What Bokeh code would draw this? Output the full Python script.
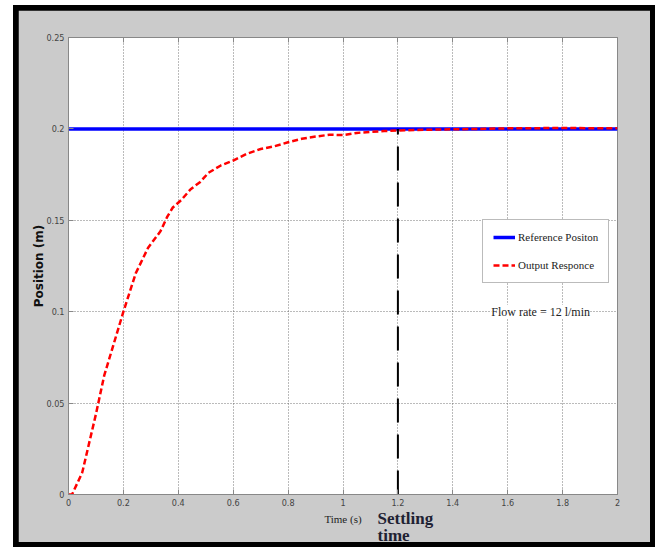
from bokeh.plotting import figure
from bokeh.layouts import column
from bokeh.models import (Range1d, FixedTicker, LinearAxis, Legend, LegendItem, Label)
from bokeh.embed import file_html
from bokeh.resources import INLINE

# ---- data ----
ref_t = [0, 2]
ref_y = [0.2, 0.2]

out_t = [0, 0.013, 0.05, 0.1, 0.13, 0.2, 0.245, 0.29, 0.335, 0.36, 0.38, 0.41, 0.445,
         0.48, 0.51, 0.555, 0.6, 0.65, 0.7, 0.75, 0.8, 0.85, 0.9, 0.95, 1.0, 1.05,
         1.1, 1.15, 1.2, 1.3, 1.4, 1.5, 1.6, 1.7, 1.8, 1.9, 2.0]
out_y = [0, 0, 0.012, 0.044, 0.065, 0.1, 0.121, 0.135, 0.144, 0.152, 0.157, 0.161, 0.167,
         0.171, 0.176, 0.180, 0.1827, 0.1864, 0.189, 0.1905, 0.1927, 0.1946, 0.1958, 0.1968,
         0.1966, 0.1978, 0.1984, 0.1988, 0.1991, 0.1995, 0.1998, 0.2, 0.2003, 0.2004,
         0.2005, 0.2004, 0.2003]

settling_time = 1.2
settle_y = [0, 0.2]

x_ticks = [0, 0.2, 0.4, 0.6, 0.8, 1, 1.2, 1.4, 1.6, 1.8, 2]
x_tick_labels = ["0", "0.2", "0.4", "0.6", "0.8", "1", "1.2", "1.4", "1.6", "1.8", "2"]
y_ticks = [0, 0.05, 0.1, 0.15, 0.2, 0.25]
y_tick_labels = ["0", "0.05", "0.1", "0.15", "0.2", "0.25"]

GREY = "#cbcbcb"
TICK_FONT = "'Liberation Sans Narrow', 'DejaVu Sans Condensed', sans-serif"
SERIF = "'Liberation Serif', serif"

W, H = 632, 532
p = figure(width=W, height=H, output_backend="svg", toolbar_location=None,
           x_range=Range1d(0, 2), y_range=Range1d(0, 0.25),
           min_border_left=50, min_border_right=33, min_border_top=27, min_border_bottom=48)
p.background_fill_color = "white"
p.border_fill_color = GREY
p.outline_line_color = "#888888"

# axes
for ax, ticks, labels in ((p.xaxis[0], x_ticks, x_tick_labels), (p.yaxis[0], y_ticks, y_tick_labels)):
    ax.ticker = FixedTicker(ticks=ticks)
    ax.major_label_overrides = {t: l for t, l in zip(ticks, labels)}
    ax.major_label_text_font = TICK_FONT
    ax.major_label_text_font_size = "9px"
    ax.major_label_text_color = "#444444"
    ax.major_tick_in = 5
    ax.major_tick_out = 0
    ax.minor_tick_line_color = None
    ax.axis_line_color = "#888888"
    ax.major_tick_line_color = "#888888"
    ax.major_label_standoff = 4

p.xaxis.axis_label = "Time (s)"
p.xaxis.axis_label_text_font = SERIF
p.xaxis.axis_label_text_font_style = "normal"
p.xaxis.axis_label_text_font_size = "11px"
p.xaxis.axis_label_text_color = "#222222"
p.xaxis.axis_label_standoff = 4

p.yaxis.axis_label = "Position (m)"
p.yaxis.axis_label_text_font = "'DejaVu Sans', sans-serif"
p.yaxis.axis_label_text_font_style = "bold"
p.yaxis.axis_label_text_font_size = "12px"
p.yaxis.axis_label_text_color = "#111111"
p.yaxis.axis_label_standoff = -3

# box ticks on top
top_axis = LinearAxis(ticker=FixedTicker(ticks=x_ticks), major_label_text_font_size="0px",
                      major_label_standoff=0,
                      major_tick_in=5, major_tick_out=0, minor_tick_line_color=None,
                      axis_line_color="#888888", major_tick_line_color="#888888")
p.add_layout(top_axis, "above")

# grid
for g in (p.xgrid[0], p.ygrid[0]):
    g.grid_line_color = "#555555"
    g.grid_line_dash = "1 2"
    g.grid_line_alpha = 0.8
    g.grid_line_width = 1
p.xgrid[0].ticker = FixedTicker(ticks=x_ticks)
p.ygrid[0].ticker = FixedTicker(ticks=y_ticks)

# lines
r_ref = p.line(ref_t, ref_y, line_color="#0000ff", line_width=3.5)
r_out = p.line(out_t, out_y, line_color="#ff0000", line_width=2.5, line_dash="6 3")
p.line([settling_time, settling_time], settle_y, line_color="black", line_width=2,
       line_dash="24 12")

legend = Legend(items=[LegendItem(label="Reference Positon", renderers=[r_ref]),
                       LegendItem(label="Output Responce", renderers=[r_out])],
                location=(414, 211))
legend.label_text_font = SERIF
legend.label_text_font_size = "11px"
legend.label_text_color = "#222222"
legend.glyph_width = 22
legend.glyph_height = 14
legend.label_height = 14
legend.label_standoff = 3
legend.spacing = 14
legend.padding = 10
legend.margin = 0
legend.border_line_color = "#777777"
legend.background_fill_color = "white"
legend.background_fill_alpha = 1
p.add_layout(legend, "center")

p.add_layout(Label(x=1.72, y=0.1, text="Flow rate = 12 l/min", text_font=SERIF,
                   text_font_size="12px", text_color="#222222", text_align="center",
                   text_baseline="middle", background_fill_color="white"))

# annotations in side panels are not clipped to the frame
p.add_layout(Label(x=359, y=508, x_units="canvas", y_units="canvas", text="Settling",
                   text_font=SERIF, text_font_style="bold", text_font_size="17px",
                   text_color="#1f2233", text_align="left", text_baseline="alphabetic"),
             "above")
p.add_layout(Label(x=359, y=525, x_units="canvas", y_units="canvas", text="time",
                   text_font=SERIF, text_font_style="bold", text_font_size="17px",
                   text_color="#1f2233", text_align="left", text_baseline="alphabetic"),
             "right")

layout = column(p, styles={"background-color": "black", "padding": "5px"})
layout.margin = (5, 0, 0, 13)

open("out.html", "w").write(file_html(layout, INLINE))
